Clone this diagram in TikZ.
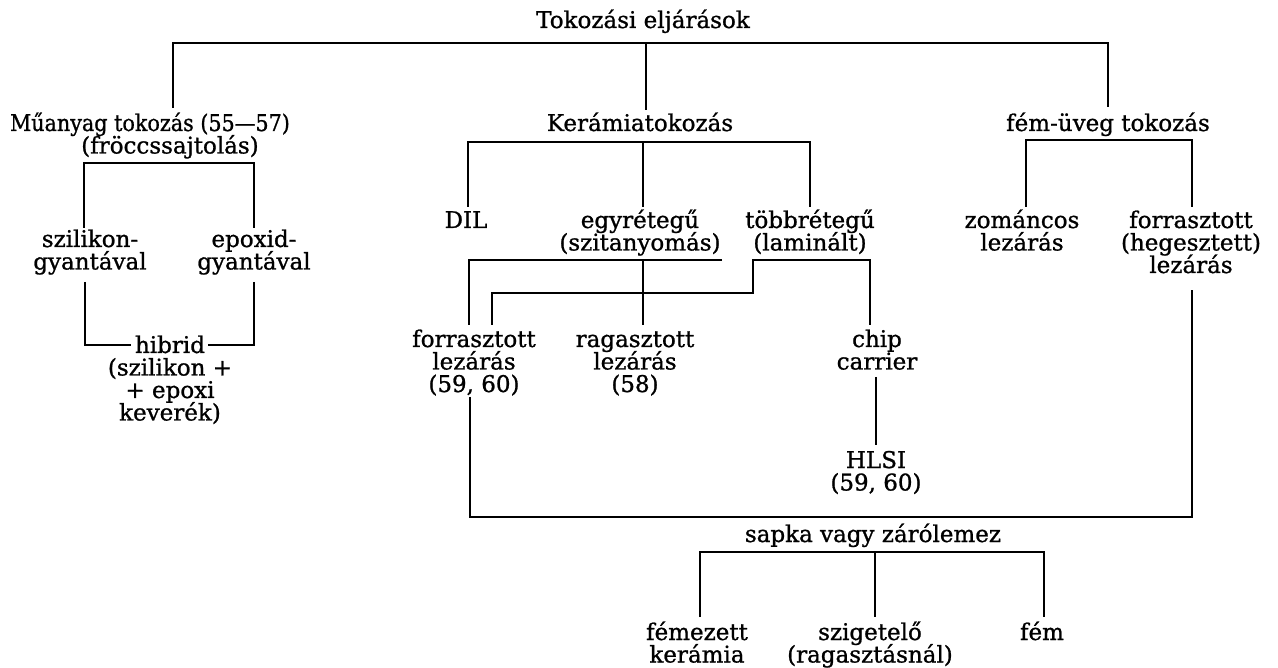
\documentclass[tikz,border=0pt]{standalone}
\usepackage{graphicx}
\usepackage{fontspec}
\setmainfont{DejaVu Serif}[FakeBold=1.0]
% centred multi-line label whose reference point is the first baseline
\newcommand\rows[1]{\vtop{\baselineskip=22.5pt\lineskiplimit=-30pt\halign{\hfil##\hfil\cr#1\crcr}}}

\begin{document}
\begin{tikzpicture}[x=1pt,y=-1pt,line width=1.4pt,
  lbl/.style={anchor=base,inner sep=0pt,font=\fontsize{23}{22.5}\selectfont}]
\useasboundingbox (0,0) rectangle (1278,668);

% ---- labels ----
\node[lbl] (root)    at (643,28)  {Tokozási\ eljárások};
\node[lbl] (muanyag) at (150,131) {\rows{\scalebox{0.9}[1]{Műanyag tokozás (55—57)}\cr \hspace{40pt}(fröccssajtolás)}};
\node[lbl] (keram)   at (640,131) {Kerámiatokozás};
\node[lbl] (femuveg) at (1108,131){fém-üveg\ tokozás};

\node[lbl] (szil)    at (90,247)  {\rows{szilikon-\cr gyantával}};
\node[lbl] (epox)    at (254,247) {\rows{epoxid-\cr gyantával}};
\node[lbl] (hibrid)  at (170,353) {\rows{hibrid\cr (szilikon +\cr + epoxi\cr keverék)}};

\node[lbl] (dil)     at (466,228) {DIL};
\node[lbl] (egy)     at (640,228) {\rows{egyrétegű\cr (szitanyomás)}};
\node[lbl] (tobb)    at (810,228) {\rows{többrétegű\cr (laminált)}};
\node[lbl] (zoman)   at (1022,228){\rows{zománcos\cr lezárás}};
\node[lbl] (forheg)  at (1191,228){\rows{forrasztott\cr (hegesztett)\cr lezárás}};

\node[lbl] (forr)    at (474,347) {\rows{forrasztott\cr lezárás\cr (59,\ 60)}};
\node[lbl] (ragasz)  at (635,347) {\rows{ragasztott\cr lezárás\cr (58)}};
\node[lbl] (chip)    at (877,347) {\rows{chip\cr carrier}};
\node[lbl] (hlsi)    at (876,468) {\rows{HLSI\cr (59,\ 60)}};

\node[lbl] (sapka)   at (873,542) {sapka\ vagy\ zárólemez};
\node[lbl] (femker)  at (697,640) {\rows{fémezett\cr kerámia}};
\node[lbl] (szig)    at (870,640) {\rows{szigetelő\cr (ragasztásnál)}};
\node[lbl] (fem)     at (1042,640){fém};

% ---- line ends and junctions ----
\coordinate (root-bar) at (646,43);
\coordinate (mu-in)  at (173,108);
\coordinate (ke-in)  at (646,110);
\coordinate (fu-in)  at (1108,107);

\coordinate (mu-bar) at (169,163);
\coordinate (sz-in)  at (84,228);
\coordinate (ep-in)  at (254,228);
\coordinate (sz-out) at (85,282);
\coordinate (ep-out) at (254,282);
\coordinate (hi-l)   at (131,345);
\coordinate (hi-r)   at (208,345);

\coordinate (ke-bar) at (643,142);
\coordinate (dil-in) at (468,207);
\coordinate (egy-in) at (643,207);
\coordinate (tob-in) at (810,207);

\coordinate (fu-bar) at (1108,140);
\coordinate (zo-in)  at (1026,207);
\coordinate (fh-in)  at (1192,207);

\coordinate (egy-out) at (722,260);
\coordinate (egy-tap) at (643,260);
\coordinate (fo-in1)  at (469,325);
\coordinate (ra-in)   at (643,325);

\coordinate (ch-in)   at (870,325);
\coordinate (tob-out) at (753,260);
\coordinate (tob-step) at (753,293);
\coordinate (fo-in2)  at (492,325);

\coordinate (ch-out)  at (876,377);
\coordinate (hl-in)   at (876,445);

\coordinate (fo-out)  at (470,397);
\coordinate (fh-out)  at (1192,290);
\coordinate (low-bar) at (830,517);

\coordinate (sa-bar)  at (875,552);
\coordinate (fk-in)   at (700,617);
\coordinate (si-in)   at (875,617);
\coordinate (fe-in)   at (1044,617);

% ---- connectors ----
\draw (mu-in) |- (root-bar) -| (fu-in);
\draw (root-bar) -- (ke-in);

\draw (sz-in) |- (mu-bar) -| (ep-in);
\draw (sz-out) |- (hi-l);
\draw (ep-out) |- (hi-r);

\draw (dil-in) |- (ke-bar) -| (tob-in);
\draw (ke-bar) -- (egy-in);

\draw (zo-in) |- (fu-bar) -| (fh-in);

\draw (egy-out) -| (fo-in1);
\draw (egy-tap) -- (ra-in);

\draw (ch-in) |- (tob-out) |- (tob-step) -| (fo-in2);
\draw (ch-out) -- (hl-in);

\draw (fo-out) |- (low-bar) -| (fh-out);

\draw (fk-in) |- (sa-bar) -| (fe-in);
\draw (sa-bar) -- (si-in);
\end{tikzpicture}
\end{document}
